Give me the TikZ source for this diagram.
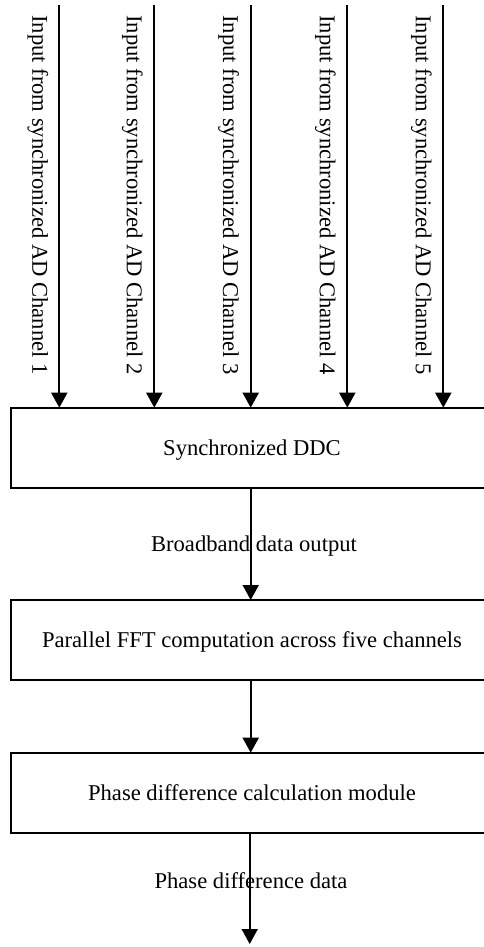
\documentclass[tikz,border=0pt]{standalone}
\usepackage{fontspec}
\setmainfont[Ligatures=CommonOff]{Liberation Serif}
\usetikzlibrary{arrows.meta}
\begin{document}
\begin{tikzpicture}[x=1pt,y=-1pt,
  font=\fontsize{22.6}{27}\selectfont,
  box/.style={draw, line width=1.8pt, rectangle, outer sep=0pt, inner sep=0pt,
    minimum width=482pt, minimum height=80pt, anchor=north west,
    text height=15pt, text depth=0pt},
  arr/.style={draw, line width=1.8pt, -{Triangle[width=16pt,length=15pt]}},
  inlabel/.style={rotate=-90, inner sep=0pt},
  lbl/.style={anchor=base, inner sep=0pt}]
\useasboundingbox (0,0) rectangle (483,947);
\fill[white] (0,0) rectangle (483,947);
% boxes
\node[box] (ddc) at (11,407.7) {Synchronized DDC};
\node[box] (fft) at (11,600) {Parallel FFT computation across five channels};
\node[box] (pdm) at (11,752.7) {Phase difference calculation module};
% input lines
\coordinate (t1) at (59.3,5);
\coordinate (t2) at (154.3,5);
\coordinate (t3) at (250.7,5);
\coordinate (t4) at (347.3,5);
\coordinate (t5) at (443.3,5);
\foreach \i in {1,...,5}{
  \draw[arr] (t\i) -- (t\i |- ddc.north);
}
\node[inlabel] (l1) at (37.8,195) {Input from synchronized AD Channel 1};
\node[inlabel] (l2) at (132.3,195) {Input from synchronized AD Channel 2};
\node[inlabel] (l3) at (228.7,195) {Input from synchronized AD Channel 3};
\node[inlabel] (l4) at (325.3,195) {Input from synchronized AD Channel 4};
\node[inlabel] (l5) at (421.3,195) {Input from synchronized AD Channel 5};
% connectors
\coordinate (c1) at (250.7,0);
\draw[arr] (c1 |- ddc.south) -- (c1 |- fft.north);
\draw[arr] (c1 |- fft.south) -- (c1 |- pdm.north);
\coordinate (outend) at (249.7,944);
\draw[arr] (outend |- pdm.south) -- (outend);
% arrow labels
\node[lbl] (bb) at (254,551.7) {Broadband data output};
\node[lbl] (pd) at (251,888.3) {Phase difference data};
\end{tikzpicture}
\end{document}
